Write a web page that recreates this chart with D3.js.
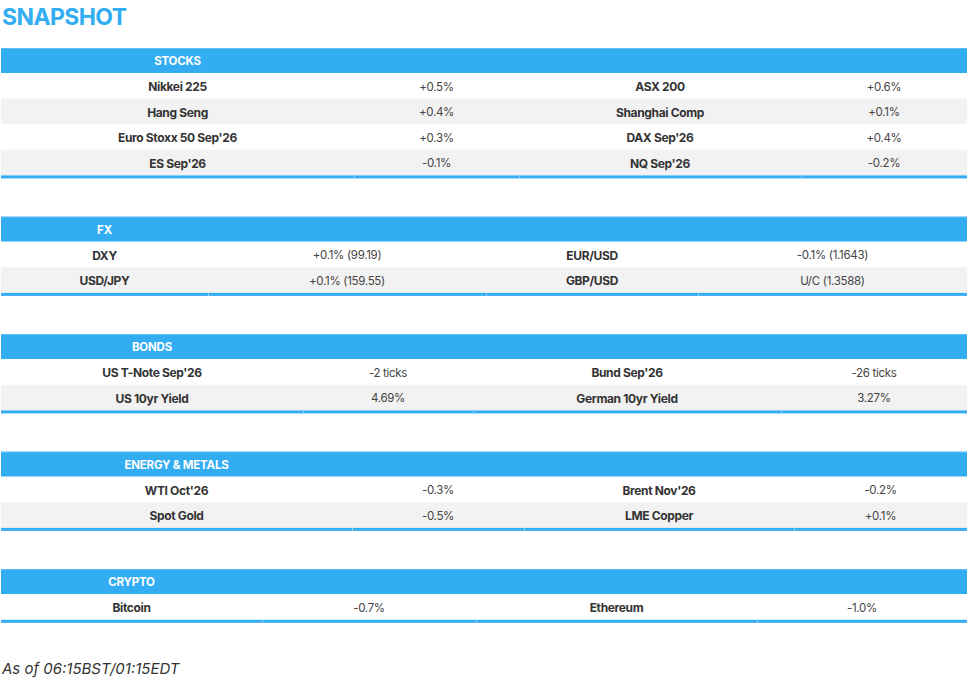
<!DOCTYPE html>
<html>
<head>
<meta charset="utf-8">
<script src="https://cdn.jsdelivr.net/npm/d3@7"></script>
<style>
  body { margin: 0; background: #fff; }
  svg { display: block; font-family: Inter, "Noto Sans", sans-serif; }
</style>
</head>
<body>
<div id="chart"></div>
<script>
// Section titles
var sections = ["STOCKS", "FX", "BONDS", "ENERGY & METALS", "CRYPTO"];

// Each row holds two instruments: left name, left value, right name, right value
var stocksNames = ["Nikkei 225", "ASX 200", "Hang Seng", "Shanghai Comp", "Euro Stoxx 50 Sep'26", "DAX Sep'26", "ES Sep'26", "NQ Sep'26"];
var stocksValues = ["+0.5%", "+0.6%", "+0.4%", "+0.1%", "+0.3%", "+0.4%", "-0.1%", "-0.2%"];

var fxNames = ["DXY", "EUR/USD", "USD/JPY", "GBP/USD"];
var fxValues = ["+0.1% (99.19)", "-0.1% (1.1643)", "+0.1% (159.55)", "U/C (1.3588)"];

var bondsNames = ["US T-Note Sep'26", "Bund Sep'26", "US 10yr Yield", "German 10yr Yield"];
var bondsValues = ["-2 ticks", "-26 ticks", "4.69%", "3.27%"];

var energyNames = ["WTI Oct'26", "Brent Nov'26", "Spot Gold", "LME Copper"];
var energyValues = ["-0.3%", "-0.2%", "-0.5%", "+0.1%"];

var cryptoNames = ["Bitcoin", "Ethereum"];
var cryptoValues = ["-0.7%", "-1.0%"];

var footnote = "As of 06:15BST/01:15EDT";

// Layout (column edges as the browser's auto table layout put them)
var w = 971, h = 683;
var left = 1, right = 967;
var headerH = 25, rowH = 25.6, borderH = 3, gap = 38.3;
var blue = "#33adf2";
var columnEdges = [
    [354, 519, 801],
    [208, 486, 698],
    [303, 473, 781],
    [352, 524, 794],
    [262, 476, 757]
];

var tables = [
    { names: stocksNames, values: stocksValues },
    { names: fxNames, values: fxValues },
    { names: bondsNames, values: bondsValues },
    { names: energyNames, values: energyValues },
    { names: cryptoNames, values: cryptoValues }
];

var svg = d3.select("#chart")
    .append("svg")
    .attr("width", w)
    .attr("height", h);

// Title
svg.append("text")
    .attr("x", 2)
    .attr("y", 25)
    .attr("fill", blue)
    .attr("font-size", "23px")
    .attr("font-weight", 700)
    .attr("letter-spacing", "-0.6px")
    .text("SNAPSHOT");

var tableTop = 48;
tables.forEach(function(t, ti) {
    // pair names/values into rows of [nameL, valueL, nameR, valueR]
    var rows = [];
    for (var i = 0; i < t.names.length; i += 2) {
        rows.push([t.names[i], t.values[i], t.names[i + 1], t.values[i + 1]]);
    }
    var edges = [left].concat(columnEdges[ti]).concat([right]);
    var x = d3.scaleOrdinal().domain([0, 1, 2, 3]).range(edges.slice(0, 4));
    var cw = function(c) { return edges[c + 1] - edges[c]; };

    var y = d3.scaleBand()
        .domain(d3.range(rows.length))
        .range([tableTop + headerH, tableTop + headerH + rows.length * rowH]);

    var g = svg.append("g");

    // header
    g.append("rect")
        .attr("x", left).attr("y", tableTop)
        .attr("width", right - left).attr("height", headerH)
        .attr("fill", blue);
    g.append("rect")
        .attr("x", left).attr("y", tableTop)
        .attr("width", right - left).attr("height", 1)
        .attr("fill", "#5dbdf4");
    g.append("text")
        .attr("x", x(0) + cw(0) / 2)
        .attr("y", tableTop + headerH / 2 + 0.5)
        .attr("text-anchor", "middle")
        .attr("dominant-baseline", "central")
        .attr("fill", "#fff")
        .attr("font-size", "11.5px")
        .attr("font-weight", 700)
        .attr("letter-spacing", "-0.2px")
        .text(sections[ti]);

    // body rows
    var row = g.selectAll("g.row")
        .data(rows)
        .enter()
        .append("g")
        .attr("class", "row")
        .attr("transform", function(d, i) { return "translate(0," + y(i) + ")"; });

    row.append("rect")
        .attr("x", left)
        .attr("y", 0)
        .attr("width", right - left)
        .attr("height", y.bandwidth())
        .attr("fill", function(d, i) { return i % 2 ? "#f2f2f2" : "#fff"; });

    row.selectAll("text")
        .data(function(d) { return d; })
        .enter()
        .append("text")
        .attr("x", function(d, c) { return x(c) + cw(c) / 2; })
        .attr("y", y.bandwidth() / 2 + 0.8)
        .attr("text-anchor", "middle")
        .attr("dominant-baseline", "central")
        .attr("fill", function(d, c) { return c % 2 ? "#444" : "#333"; })
        .attr("font-size", function(d, c) { return c % 2 ? "11.5px" : "12px"; })
        .attr("letter-spacing", function(d, c) { return c % 2 ? "-0.3px" : "-0.35px"; })
        .attr("font-weight", function(d, c) { return c % 2 ? 400 : 700; })
        .text(function(d) { return d; });

    // bottom border, with a faint seam at each column edge
    var by = tableTop + headerH + rows.length * rowH;
    g.append("rect")
        .attr("x", left).attr("y", by)
        .attr("width", right - left).attr("height", borderH)
        .attr("fill", blue);
    g.selectAll("rect.sep")
        .data(columnEdges[ti])
        .enter()
        .append("rect")
        .attr("class", "sep")
        .attr("x", function(d) { return d; })
        .attr("y", by)
        .attr("width", 1)
        .attr("height", borderH)
        .attr("fill", "#8fd0f6");

    tableTop = by + borderH + gap;
});

// footnote
svg.append("text")
    .attr("x", 2)
    .attr("y", 674)
    .attr("fill", "#333")
    .attr("font-size", "15px")
    .attr("font-style", "italic")
    .text(footnote);
</script>
</body>
</html>
